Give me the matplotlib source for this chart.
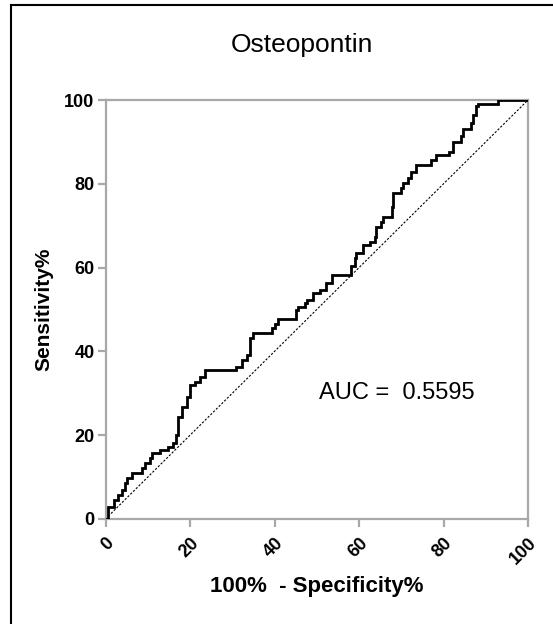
import numpy as np
import matplotlib
matplotlib.use("Agg")
import matplotlib.pyplot as plt

# ROC staircase: x where each riser sits, level reached after it
fpr = [0, 0.7, 1.9, 3.0, 3.8, 4.6, 5.0, 6.2, 8.6, 9.3, 10.5, 10.9, 12.9, 14.8,
       16.0, 16.8, 17.2, 18.0, 19.2, 20.0, 21.2, 22.3, 23.5, 31.0, 32.2, 33.4,
       34.2, 34.9, 39.3, 40.1, 40.9, 45.2, 45.6, 47.2, 47.6, 49.1, 50.7, 52.3,
       53.5, 58.0, 59.0, 59.4, 60.9, 62.5, 63.7, 64.1, 65.3, 65.7, 67.7, 68.0,
       70.0, 70.4, 71.6, 72.4, 73.6, 77.1, 78.3, 81.4, 82.2, 84.2, 84.6, 86.5,
       86.9, 87.7, 88.1, 92.8, 100]
tpr = [0, 2.9, 4.5, 5.7, 6.9, 8.5, 9.7, 10.9, 12.1, 13.3, 14.5, 15.7, 16.5, 17.3,
       18.1, 20.0, 24.4, 26.8, 29.2, 32.0, 32.8, 34.0, 35.6, 36.3, 37.9, 39.1,
       43.1, 44.5, 45.5, 46.5, 47.7, 49.9, 50.7, 51.5, 52.3, 53.9, 54.7, 56.3,
       58.2, 60.5, 62.2, 63.4, 65.4, 66.2, 67.4, 69.8, 71.0, 72.1, 74.5, 77.7,
       78.9, 80.1, 81.3, 82.9, 84.5, 85.7, 86.9, 87.7, 90.0, 91.3, 93.2, 94.4,
       96.4, 98.5, 99.1, 100, 100]
ticks = [0, 20, 40, 60, 80, 100]
auc_text = "AUC =  0.5595"

plt.rcParams['font.family'] = ['Liberation Sans', 'DejaVu Sans']

fig = plt.figure(figsize=(5.53, 6.24), dpi=100)
ax = fig.add_axes([0.1908, 0.1683, 0.7640, 0.6714])

grey = '#a8a8a8'
ax.plot([0, 100], [0, 100], color='black', lw=0.8, ls=(0, (2, 1.5)), zorder=2)
ax.plot(fpr, tpr, drawstyle='steps-post', color='black', lw=2.0,
        solid_joinstyle='miter', zorder=3)

ax.set_xlim(0, 100)
ax.set_ylim(0, 100)
ax.set_xticks(ticks)
ax.set_yticks(ticks)
ax.set_xticklabels([str(t) for t in ticks], rotation=45, ha='right', va='top',
                   rotation_mode='anchor', fontsize=13, fontweight='bold')
ax.set_yticklabels([str(t) for t in ticks], fontsize=13, fontweight='bold')
for s in ax.spines.values():
    s.set_color(grey)
    s.set_linewidth(1.6)
ax.tick_params(direction='out', length=6, width=1.6, color=grey, pad=2)
ax.tick_params(axis='x', pad=5)

ax.set_xlabel("100%  - Specificity%", fontsize=16, fontweight='bold', labelpad=6)
ax.set_ylabel("Sensitivity%", fontsize=15, fontweight='bold', labelpad=8)

ax.text(50.5, 30, auc_text, fontsize=17, ha='left', va='center')
fig.text(302 / 553, 1 - 45 / 624, "Osteopontin", fontsize=19, ha='center', va='center')

# outer frame (cropped on the right and bottom)
fig.add_artist(plt.Line2D([11 / 553, 11 / 553], [0, 1 - 5 / 624],
                          transform=fig.transFigure, color='black', lw=1.5))
fig.add_artist(plt.Line2D([11 / 553, 1], [1 - 5 / 624, 1 - 5 / 624],
                          transform=fig.transFigure, color='black', lw=1.5))

fig.savefig("out.png", dpi=100)
